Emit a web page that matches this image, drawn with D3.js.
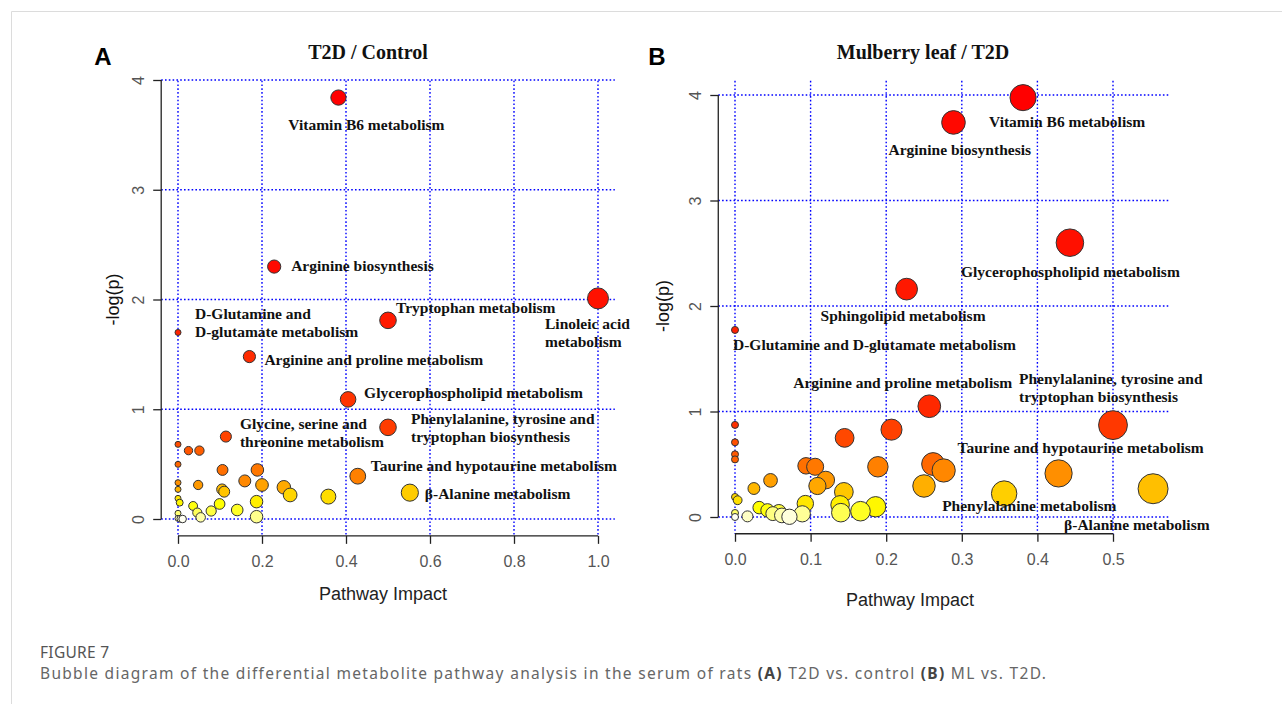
<!DOCTYPE html>
<html>
<head>
<meta charset="utf-8">
<script src="https://cdn.jsdelivr.net/npm/d3@7"></script>
<style>
  body { margin: 0; background: #fff; }
  svg { display: block; }
</style>
</head>
<body>
<div id="fig"></div>
<script>

// ==========================
// Data
// ==========================

// Panel A: T2D / Control
const namesA = [
    "Vitamin B6 metabolism", "Arginine biosynthesis", "Linoleic acid metabolism",
    "Tryptophan metabolism", "D-Glutamine and D-glutamate metabolism",
    "Arginine and proline metabolism", "Glycerophospholipid metabolism",
    "Phenylalanine, tyrosine and tryptophan biosynthesis",
    "Glycine, serine and threonine metabolism",
    "", "", "", "", "", "",
    "Taurine and hypotaurine metabolism",
    "", "", "", "", "", "", "", "",
    "beta-Alanine metabolism",
    "", "", "", "", "", "", "", "", "", "", "", "", "", "", "", ""
];
const impactA = [
    0.382, 0.229, 1.0, 0.5, 0.0, 0.170, 0.405, 0.5, 0.114,
    0.0, 0.025, 0.051, 0.0, 0.106, 0.189,
    0.428,
    0.159, 0.0, 0.048, 0.2, 0.252, 0.0, 0.105, 0.110,
    0.552,
    0.267, 0.358, 0.0, 0.187, 0.004, 0.099, 0.036, 0.141, 0.079, 0.046,
    0.0, 0.187, 0.054, 0.0, 0.006, 0.011
];
const logpA = [
    3.84, 2.30, 2.01, 1.81, 1.70, 1.48, 1.09, 0.835, 0.751,
    0.68, 0.623, 0.623, 0.498, 0.447, 0.447,
    0.39,
    0.347, 0.331, 0.31, 0.31, 0.289, 0.27, 0.27, 0.249,
    0.24,
    0.219, 0.204, 0.188, 0.158, 0.149, 0.137, 0.119, 0.082, 0.073, 0.058,
    0.052, 0.021, 0.015, 0.006, 0.002, 0.0
];
const xTicksA = [0, 0.2, 0.4, 0.6, 0.8, 1.0];

// Panel B: Mulberry leaf / T2D
const namesB = [
    "Vitamin B6 metabolism", "Arginine biosynthesis", "Glycerophospholipid metabolism",
    "Sphingolipid metabolism", "D-Glutamine and D-glutamate metabolism",
    "Arginine and proline metabolism", "",
    "Phenylalanine, tyrosine and tryptophan biosynthesis",
    "", "", "", "", "", "", "", "", "", "",
    "Taurine and hypotaurine metabolism",
    "", "", "", "", "",
    "beta-Alanine metabolism", "",
    "Phenylalanine metabolism",
    "", "", "", "", "", "", "", "", "", "",
    "", "", "", "", "", "", ""
];
const impactB = [
    0.381, 0.289, 0.443, 0.227, 0.0, 0.257, 0.0, 0.5,
    0.207, 0.145, 0.0, 0.0, 0.0, 0.262, 0.094, 0.106, 0.189, 0.276,
    0.428,
    0.120, 0.047, 0.109, 0.250, 0.025,
    0.553, 0.144,
    0.356,
    0.0, 0.0035, 0.093, 0.139, 0.186, 0.032, 0.043, 0.166, 0.058, 0.140,
    0.0, 0.050, 0.089, 0.062, 0.0165, 0.072, 0.0
];
const logpB = [
    3.975, 3.74, 2.60, 2.16, 1.773, 1.05, 0.873, 0.871,
    0.828, 0.75, 0.708, 0.594, 0.546, 0.502, 0.485, 0.476, 0.476, 0.441,
    0.413,
    0.35, 0.347, 0.294, 0.294, 0.27,
    0.268, 0.238,
    0.222,
    0.19, 0.159, 0.127, 0.115, 0.097, 0.089, 0.063, 0.055, 0.05, 0.041,
    0.038, 0.032, 0.03, 0.015, 0.006, 0.002, 0.0
];
const xTicksB = [0, 0.1, 0.2, 0.3, 0.4, 0.5];

const yTicks = [0, 1, 2, 3, 4];

// ==========================
// Label layout (offsets from bubble centre, px)
// ==========================

const labelsA = {
    "Vitamin B6 metabolism": { lines: ["Vitamin B6 metabolism"], dx: 28, dy: 32, anchor: "middle" },
    "Arginine biosynthesis": { lines: ["Arginine biosynthesis"], dx: 17, dy: 4 },
    "Linoleic acid metabolism": { lines: ["Linoleic acid", "metabolism"], dx: -53, dy: 31 },
    "Tryptophan metabolism": { lines: ["Tryptophan metabolism"], dx: 8, dy: -7 },
    "D-Glutamine and D-glutamate metabolism": { lines: ["D-Glutamine and", "D-glutamate metabolism"], dx: 17, dy: -13 },
    "Arginine and proline metabolism": { lines: ["Arginine and proline metabolism"], dx: 15, dy: 8 },
    "Glycerophospholipid metabolism": { lines: ["Glycerophospholipid metabolism"], dx: 16, dy: -1 },
    "Phenylalanine, tyrosine and tryptophan biosynthesis": { lines: ["Phenylalanine, tyrosine and", "tryptophan biosynthesis"], dx: 23, dy: -3 },
    "Glycine, serine and threonine metabolism": { lines: ["Glycine, serine and", "threonine metabolism"], dx: 14, dy: -8 },
    "Taurine and hypotaurine metabolism": { lines: ["Taurine and hypotaurine metabolism"], dx: 13, dy: -5 },
    "beta-Alanine metabolism": { lines: ["\u03b2-Alanine metabolism"], dx: 15, dy: 6 }
};

const labelsB = {
    "Vitamin B6 metabolism": { lines: ["Vitamin B6 metabolism"], dx: -34, dy: 29 },
    "Arginine biosynthesis": { lines: ["Arginine biosynthesis"], dx: -65, dy: 33 },
    "Glycerophospholipid metabolism": { lines: ["Glycerophospholipid metabolism"], dx: -109, dy: 34 },
    "Sphingolipid metabolism": { lines: ["Sphingolipid metabolism"], dx: -86, dy: 32 },
    "D-Glutamine and D-glutamate metabolism": { lines: ["D-Glutamine and D-glutamate metabolism"], dx: -2, dy: 20 },
    "Arginine and proline metabolism": { lines: ["Arginine and proline metabolism"], dx: -136, dy: -18 },
    "Phenylalanine, tyrosine and tryptophan biosynthesis": { lines: ["Phenylalanine, tyrosine and", "tryptophan biosynthesis"], dx: -94, dy: -41 },
    "Taurine and hypotaurine metabolism": { lines: ["Taurine and hypotaurine metabolism"], dx: -101, dy: -20 },
    "Phenylalanine metabolism": { lines: ["Phenylalanine metabolism"], dx: -62, dy: 17 },
    "beta-Alanine metabolism": { lines: ["\u03b2-Alanine metabolism"], dx: -89, dy: 41 }
};

// ==========================
// SVG Setup
// ==========================

const width = 1282;
const height = 704;

const svg = d3.select("#fig").append("svg")
    .attr("width", width)
    .attr("height", height)
    .attr("viewBox", `0 0 ${width} ${height}`);

svg.append("rect")
    .attr("width", width)
    .attr("height", height)
    .attr("fill", "#fff");

// thin page frame
svg.append("line")
    .attr("x1", 11.5).attr("x2", width)
    .attr("y1", 11.5).attr("y2", 11.5)
    .attr("stroke", "#dcdcdc");
svg.append("line")
    .attr("x1", 11.5).attr("x2", 11.5)
    .attr("y1", 11.5).attr("y2", height)
    .attr("stroke", "#dcdcdc");

// R heat.colors(n)
function heatColors(n) {
    const j = Math.floor(n / 4);
    const i = n - j;
    const out = [];
    for (let k = 0; k < i; k++) {
        const h = i > 1 ? 60 * k / (i - 1) : 0;
        out.push(d3.hsl(h, 1, 0.5).formatHex());
    }
    const s0 = 1 - 1 / (2 * j), s1 = 1 / (2 * j);
    for (let k = 0; k < j; k++) {
        const s = j > 1 ? s0 + (s1 - s0) * k / (j - 1) : 0.5;
        out.push(d3.rgb(255, 255, Math.round(255 * (1 - s))).formatHex());
    }
    return out;
}

const serif = "'Liberation Serif', 'Times New Roman', serif";
const sans = "'Liberation Sans', Arial, sans-serif";

function drawPanel(p) {

    const points = p.names.map((n, i) => ({
        name: n,
        impact: p.impact[i],
        logp: p.logp[i]
    }));

    // draw most significant first, colour by rank
    points.sort((a, b) => b.logp - a.logp);
    const cols = heatColors(points.length);
    points.forEach((d, i) => d.fill = cols[i]);

    const xScale = d3.scaleLinear().domain(p.xDomain).range(p.xRange);
    const yScale = d3.scaleLinear().domain([0, 4]).range(p.yRange);

    const rScale = d3.scaleSqrt()
        .domain([0, d3.max(points, d => d.impact)])
        .range(p.rRange);

    // plot region: data extent + 4% (R style)
    const xExt = d3.extent(points, d => d.impact);
    const yExt = d3.extent(points, d => d.logp);
    const xPad = (xExt[1] - xExt[0]) * 0.04;
    const yPad = (yExt[1] - yExt[0]) * 0.04;
    const usrX = [xExt[0] - xPad, xExt[1] + xPad];
    const usrY = [yExt[0] - yPad, yExt[1] + yPad];

    const g = svg.append("g");

    // ==========================
    // Grid
    // ==========================

    g.selectAll(".vgrid")
        .data(p.xTicks)
        .enter()
        .append("line")
        .attr("x1", d => xScale(d))
        .attr("x2", d => xScale(d))
        .attr("y1", yScale(usrY[1]))
        .attr("y2", yScale(usrY[0]))
        .attr("stroke", "#0000ff")
        .attr("stroke-width", 1.4)
        .attr("stroke-dasharray", "1.6,2.2");

    g.selectAll(".hgrid")
        .data(yTicks)
        .enter()
        .append("line")
        .attr("x1", xScale(usrX[0]))
        .attr("x2", xScale(usrX[1]))
        .attr("y1", d => yScale(d))
        .attr("y2", d => yScale(d))
        .attr("stroke", "#0000ff")
        .attr("stroke-width", 1.4)
        .attr("stroke-dasharray", "1.6,2.2");

    // ==========================
    // Axes
    // ==========================

    const xAxisY = yScale(usrY[0]);
    const yAxisX = xScale(usrX[0]);

    const xAxis = g.append("g")
        .attr("transform", `translate(0,${xAxisY})`)
        .call(d3.axisBottom(xScale)
            .tickValues(p.xTicks)
            .tickFormat(d3.format(".1f"))
            .tickSize(8)
            .tickSizeOuter(0)
            .tickPadding(12));

    const yAxis = g.append("g")
        .attr("transform", `translate(${yAxisX},0)`)
        .call(d3.axisLeft(yScale)
            .tickValues(yTicks)
            .tickFormat(d3.format("d"))
            .tickSize(8)
            .tickSizeOuter(0)
            .tickPadding(0));

    [xAxis, yAxis].forEach(ax => {
        ax.select(".domain").attr("stroke", "#222").attr("stroke-width", 1.3);
        ax.selectAll(".tick line").attr("stroke", "#222").attr("stroke-width", 1.3);
        ax.selectAll(".tick text")
            .attr("fill", "#555")
            .style("font-family", sans)
            .style("font-size", "16px");
    });

    // R draws axis from first to last tick only
    xAxis.select(".domain")
        .attr("d", `M${xScale(p.xTicks[0])},0H${xScale(p.xTicks[p.xTicks.length - 1])}`);
    yAxis.select(".domain")
        .attr("d", `M0,${yScale(0)}V${yScale(4)}`);

    yAxis.selectAll(".tick text")
        .attr("x", null)
        .attr("dy", null)
        .attr("text-anchor", "middle")
        .attr("transform", "translate(-17,0) rotate(-90)")
        .attr("y", 0);

    g.append("text")
        .attr("transform", `translate(${p.yTitleX},${(yScale(0) + yScale(4)) / 2}) rotate(-90)`)
        .attr("text-anchor", "middle")
        .style("font-family", sans)
        .style("font-size", "18px")
        .attr("fill", "#111")
        .text("-log(p)");

    g.append("text")
        .attr("x", p.xTitleX)
        .attr("y", p.xTitleY)
        .attr("text-anchor", "middle")
        .style("font-family", sans)
        .style("font-size", "18px")
        .attr("fill", "#222")
        .text("Pathway Impact");

    // ==========================
    // Bubbles
    // ==========================

    g.selectAll(".bubble")
        .data(points)
        .enter()
        .append("circle")
        .attr("cx", d => xScale(d.impact))
        .attr("cy", d => yScale(d.logp))
        .attr("r", d => rScale(d.impact))
        .attr("fill", d => d.fill)
        .attr("stroke", "#333")
        .attr("stroke-width", 1);

    // ==========================
    // Labels
    // ==========================

    const labelled = points.filter(d => p.labels[d.name]);

    labelled.forEach(d => {
        const L = p.labels[d.name];
        const t = g.append("text")
            .attr("x", xScale(d.impact) + L.dx)
            .attr("y", yScale(d.logp) + L.dy)
            .attr("text-anchor", L.anchor || "start")
            .style("font-family", serif)
            .style("font-weight", "bold")
            .style("font-size", "15.5px")
            .attr("fill", "#111");
        L.lines.forEach((line, i) => {
            t.append("tspan")
                .attr("x", xScale(d.impact) + L.dx)
                .attr("dy", i === 0 ? 0 : 18)
                .text(line);
        });
    });

    // ==========================
    // Titles
    // ==========================

    g.append("text")
        .attr("x", p.titleX)
        .attr("y", 59)
        .attr("text-anchor", "middle")
        .style("font-family", serif)
        .style("font-weight", "bold")
        .style("font-size", "20px")
        .attr("fill", "#111")
        .text(p.title);

    g.append("text")
        .attr("x", p.letterX)
        .attr("y", 65)
        .attr("text-anchor", "middle")
        .style("font-family", sans)
        .style("font-weight", "bold")
        .style("font-size", "24px")
        .attr("fill", "#000")
        .text(p.letter);
}

drawPanel({
    names: namesA, impact: impactA, logp: logpA, labels: labelsA,
    xTicks: xTicksA,
    xDomain: [0, 1], xRange: [178, 598],
    yRange: [519, 80],
    rRange: [3, 10.5],
    yTitleX: 119, xTitleX: 383, xTitleY: 600,
    title: "T2D / Control", titleX: 368,
    letter: "A", letterX: 103
});

drawPanel({
    names: namesB, impact: impactB, logp: logpB, labels: labelsB,
    xTicks: xTicksB,
    xDomain: [0, 0.5], xRange: [735, 1113],
    yRange: [517, 95],
    rRange: [3.5, 15],
    yTitleX: 669, xTitleX: 910, xTitleY: 606,
    title: "Mulberry leaf / T2D", titleX: 923,
    letter: "B", letterX: 657
});

// ==========================
// Caption
// ==========================

const capFont = "'Noto Sans', 'Open Sans', sans-serif";

svg.append("text")
    .attr("x", 40)
    .attr("y", 658)
    .style("font-family", capFont)
    .style("font-size", "15.5px")
    .style("letter-spacing", "0.3px")
    .attr("fill", "#555")
    .text("FIGURE 7");

const cap = svg.append("text")
    .attr("x", 40)
    .attr("y", 679)
    .style("font-family", capFont)
    .style("font-size", "15.5px")
    .style("letter-spacing", "1.3px")
    .attr("fill", "#666");

[
    ["Bubble diagram of the differential metabolite pathway analysis in the serum of rats ", false],
    ["(A)", true],
    [" T2D vs. control ", false],
    ["(B)", true],
    [" ML vs. T2D.", false]
].forEach(([txt, bold]) => {
    cap.append("tspan")
        .style("font-weight", bold ? "bold" : "normal")
        .attr("fill", bold ? "#444" : "#666")
        .text(txt);
});

</script>
</body>
</html>
